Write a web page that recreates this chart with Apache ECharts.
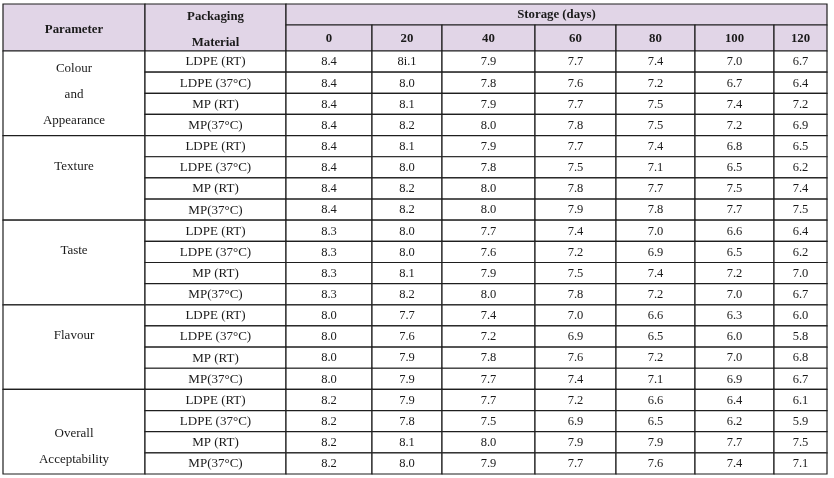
<!DOCTYPE html>
<html>
<head>
<meta charset="utf-8">
<script src="https://cdn.jsdelivr.net/npm/echarts@6/dist/echarts.min.js"></script>
<style>
  html, body { margin: 0; padding: 0; background: #fff; }
  #table { width: 834px; height: 478px; }
</style>
</head>
<body>
<div id="table"></div>
<script>
// storage time columns
const days = ['0', '20', '40', '60', '80', '100', '120'];
const paramLabels = ['Colour\nand\nAppearance', 'Texture\n ', 'Taste\n ', 'Flavour\n ', ' \nOverall\nAcceptability'];
const materials = ['LDPE (RT)', 'LDPE (37°C)', 'MP (RT)', 'MP(37°C)'];

// sensory scores, one row per packaging material ('8i.1' is printed like that in the source)
const colourAppearance = [
    [8.4, '8i.1', 7.9, 7.7, 7.4, 7.0, 6.7],
    [8.4, 8.0, 7.8, 7.6, 7.2, 6.7, 6.4],
    [8.4, 8.1, 7.9, 7.7, 7.5, 7.4, 7.2],
    [8.4, 8.2, 8.0, 7.8, 7.5, 7.2, 6.9]
];
const texture = [
    [8.4, 8.1, 7.9, 7.7, 7.4, 6.8, 6.5],
    [8.4, 8.0, 7.8, 7.5, 7.1, 6.5, 6.2],
    [8.4, 8.2, 8.0, 7.8, 7.7, 7.5, 7.4],
    [8.4, 8.2, 8.0, 7.9, 7.8, 7.7, 7.5]
];
const taste = [
    [8.3, 8.0, 7.7, 7.4, 7.0, 6.6, 6.4],
    [8.3, 8.0, 7.6, 7.2, 6.9, 6.5, 6.2],
    [8.3, 8.1, 7.9, 7.5, 7.4, 7.2, 7.0],
    [8.3, 8.2, 8.0, 7.8, 7.2, 7.0, 6.7]
];
const flavour = [
    [8.0, 7.7, 7.4, 7.0, 6.6, 6.3, 6.0],
    [8.0, 7.6, 7.2, 6.9, 6.5, 6.0, 5.8],
    [8.0, 7.9, 7.8, 7.6, 7.2, 7.0, 6.8],
    [8.0, 7.9, 7.7, 7.4, 7.1, 6.9, 6.7]
];
const overallAcceptability = [
    [8.2, 7.9, 7.7, 7.2, 6.6, 6.4, 6.1],
    [8.2, 7.8, 7.5, 6.9, 6.5, 6.2, 5.9],
    [8.2, 8.1, 8.0, 7.9, 7.9, 7.7, 7.5],
    [8.2, 8.0, 7.9, 7.7, 7.6, 7.4, 7.1]
];
const groups = [colourAppearance, texture, taste, flavour, overallAcceptability];

// layout (table units = px inside the grid)
const colEdges = [0, 142, 283, 369, 439, 532, 613, 692, 771, 824];
const rowEdges = [0, 21, 47];
for (let i = 1; i <= 20; i++) rowEdges.push(47 + i * 21.15);

const fmt = v => typeof v === 'number' ? v.toFixed(1) : v;

const cells = [];
cells.push({value: [0, 1, 0, 2], text: 'Parameter', head: true});
cells.push({value: [1, 2, 0, 2], text: 'Packaging\nMaterial', head: true});
cells.push({value: [2, 9, 0, 1], text: 'Storage (days)', head: true});
days.forEach((d, i) => cells.push({value: [2 + i, 3 + i, 1, 2], text: d, head: true}));
groups.forEach((g, gi) => {
    const r0 = 2 + gi * 4;
    cells.push({value: [0, 1, r0, r0 + 4], text: paramLabels[gi], label: true});
    g.forEach((row, ri) => {
        const r = r0 + ri;
        cells.push({value: [1, 2, r, r + 1], text: materials[ri], label: true});
        row.forEach((v, di) => cells.push({value: [2 + di, 3 + di, r, r + 1], text: fmt(v)}));
    });
});

const chart = echarts.init(document.getElementById('table'));

chart.setOption({
    animation: false,
    grid: {left: 3, top: 4, width: 824, height: 470},
    xAxis: {type: 'value', min: 0, max: 824, show: false},
    yAxis: {type: 'value', min: 0, max: 470, inverse: true, show: false},
    series: [{
        type: 'custom',
        silent: true,
        clip: false,
        data: cells.map(c => c.value),
        renderItem: (params, api) => {
            const cell = cells[params.dataIndex];
            const [c0, c1, r0, r1] = cell.value;
            const p0 = api.coord([colEdges[c0], rowEdges[r0]]);
            const p1 = api.coord([colEdges[c1], rowEdges[r1]]);
            let dy = 0.5;
            if (cell.head && c0 < 2) dy = 2;
            if (cell.label && c0 === 0) dy = 1.5;
            return {
                type: 'group',
                children: [{
                    type: 'rect',
                    shape: {x: p0[0], y: p0[1], width: p1[0] - p0[0], height: p1[1] - p0[1]},
                    style: {fill: cell.head ? '#e1d5e7' : '#fff', stroke: '#1e1e1e', lineWidth: 1.2}
                }, {
                    type: 'text',
                    x: (p0[0] + p1[0]) / 2,
                    y: (p0[1] + p1[1]) / 2 + dy,
                    style: {
                        text: cell.text,
                        fill: '#1a1a1a',
                        align: 'center',
                        verticalAlign: 'middle',
                        fontFamily: 'Liberation Serif',
                        fontWeight: cell.head ? 'bold' : 'normal',
                        fontSize: cell.head ? 12.8 : (cell.label ? 13 : 12.5),
                        lineHeight: 26
                    }
                }]
            };
        }
    }]
});
</script>
</body>
</html>
